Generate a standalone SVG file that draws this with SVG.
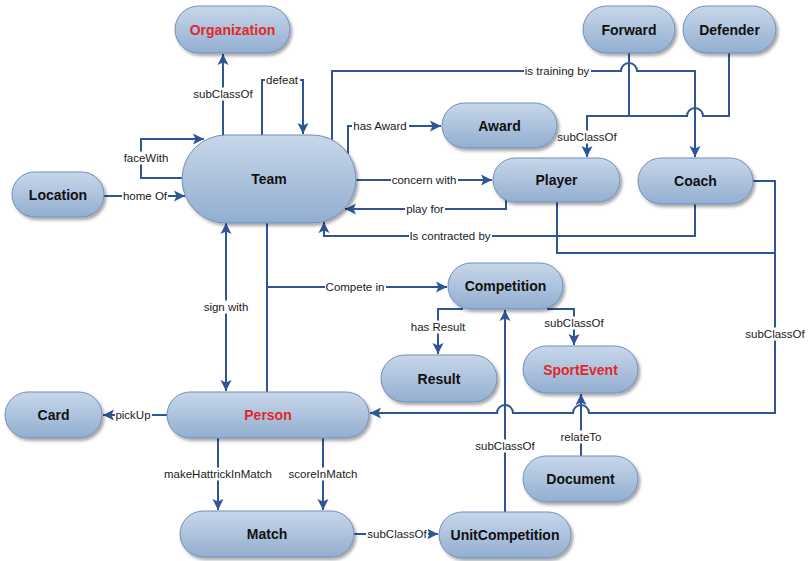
<svg xmlns="http://www.w3.org/2000/svg" width="808" height="561" viewBox="0 0 808 561">
<defs>
<linearGradient id="g" x1="0" y1="0" x2="0" y2="1">
<stop offset="0" stop-color="#c8d7ea"/>
<stop offset="1" stop-color="#92aed0"/>
</linearGradient>
<filter id="sh" x="-20%" y="-20%" width="140%" height="150%">
<feDropShadow dx="2" dy="2.5" stdDeviation="1.5" flood-color="#000" flood-opacity="0.35"/>
</filter>
<marker id="ar" markerUnits="userSpaceOnUse" markerWidth="12" markerHeight="12" refX="11" refY="6" orient="auto-start-reverse" viewBox="0 0 12 12">
<path d="M0,0.5 L11,6 L0,11.5 L2.5,6 z" fill="#2f5597"/>
</marker>
</defs>
<style>
.n rect{fill:url(#g);stroke:#6f8fba;stroke-width:1;filter:url(#sh)}
.n text{font-family:"Liberation Sans",Arial,sans-serif;font-weight:bold;font-size:14px;text-anchor:middle;dominant-baseline:central;fill:#111}
.n text.r{fill:#e0282a}
.c path{fill:none;stroke:#2f5597;stroke-width:2}
.c path.a{marker-end:url(#ar)}
.c path.b{marker-start:url(#ar);marker-end:url(#ar)}
.c rect{fill:#fff}
.c text{font-family:"Liberation Sans",Arial,sans-serif;font-size:11.5px;text-anchor:middle;dominant-baseline:central;fill:#1a1a1a}
</style>
<rect width="808" height="561" fill="#fff"/>
<g id="connectors" class="c">
<path class="a" d="M223,136 V54"/>
<path class="a" d="M262,135 V80 H303 V134"/>
<path class="a" d="M182,178 H141 V139 H204"/>
<path class="a" d="M104,196 H185"/>
<path class="a" d="M332,140 V71 H621 a8,8 0 0 1 16,0 H695 V157"/>
<path d="M629,53 V116"/>
<path class="a" d="M729,53 V116 H703 a8,8 0 0 0 -16,0 H587 V157"/>
<path class="a" d="M348,154 V126 H441"/>
<path class="a" d="M356,180 H492"/>
<path class="a" d="M506,199 V209 H345"/>
<path class="a" d="M695,204 V236 H324 V222"/>
<path class="a" d="M753,181 H775 V413 H589 a8,8 0 0 0 -16,0 H513 a8,8 0 0 0 -16,0 H370"/>
<path d="M557,202 V253 H775"/>
<path class="b" d="M226,223 V391"/>
<path d="M267,392 V223"/>
<path class="a" d="M267,287 H447"/>
<path class="a" d="M167,415 H103"/>
<path class="a" d="M218,438 V510"/>
<path class="a" d="M323,438 V510"/>
<path class="a" d="M354,534 H438"/>
<path class="a" d="M505,512 V310"/>
<path class="a" d="M463,309 H438 V354"/>
<path class="a" d="M547,309 H574 V345"/>
<path class="a" d="M581,456 V394"/>
<rect x="192" y="87.5" width="62" height="13"/><text x="223" y="94">subClassOf</text>
<rect x="265" y="73.5" width="35" height="13"/><text x="282" y="80">defeat</text>
<rect x="123" y="151.5" width="47" height="13"/><text x="146" y="158">faceWith</text>
<rect x="122" y="189.5" width="46" height="13"/><text x="145" y="196">home Of</text>
<rect x="524" y="64.5" width="67" height="13"/><text x="557" y="71">is training by</text>
<rect x="556" y="130.5" width="62" height="13"/><text x="587" y="137">subClassOf</text>
<rect x="352" y="119.5" width="57" height="13"/><text x="380" y="126">has Award</text>
<rect x="391" y="173.5" width="67" height="13"/><text x="424" y="180">concern with</text>
<rect x="405" y="202.5" width="40" height="13"/><text x="425" y="209">play for</text>
<rect x="409" y="229.5" width="83" height="13"/><text x="450" y="236">Is contracted by</text>
<rect x="744" y="327.5" width="62" height="13"/><text x="775" y="334">subClassOf</text>
<rect x="203" y="300.5" width="47" height="13"/><text x="226" y="307">sign with</text>
<rect x="325" y="280.5" width="61" height="13"/><text x="355" y="287">Compete in</text>
<rect x="115" y="408.5" width="37" height="13"/><text x="133" y="415">pickUp</text>
<rect x="163" y="467.5" width="110" height="13"/><text x="218" y="474">makeHattrickInMatch</text>
<rect x="288" y="467.5" width="71" height="13"/><text x="323" y="474">scoreInMatch</text>
<rect x="366" y="527.5" width="62" height="13"/><text x="397" y="534">subClassOf</text>
<rect x="474" y="439.5" width="62" height="13"/><text x="505" y="446">subClassOf</text>
<rect x="411" y="320.5" width="56" height="13"/><text x="438" y="327">has Result</text>
<rect x="543" y="316.5" width="62" height="13"/><text x="574" y="323">subClassOf</text>
<rect x="560" y="430.5" width="44" height="13"/><text x="581" y="437">relateTo</text>
</g>
<g id="Organization" class="n"><rect x="175" y="6" width="115" height="47" rx="23.5"/><text class="r" x="232.5" y="29.5">Organization</text></g>
<g id="Team" class="n"><rect x="182" y="135" width="174" height="88" rx="44"/><text x="269" y="179">Team</text></g>
<g id="Location" class="n"><rect x="12" y="172" width="92" height="45" rx="22.5"/><text x="58" y="194.5">Location</text></g>
<g id="Forward" class="n"><rect x="583" y="6" width="92" height="47" rx="23.5"/><text x="629" y="29.5">Forward</text></g>
<g id="Defender" class="n"><rect x="683" y="6" width="93" height="47" rx="23.5"/><text x="729.5" y="29.5">Defender</text></g>
<g id="Award" class="n"><rect x="442" y="103" width="115" height="45" rx="22.5"/><text x="499.5" y="125.5">Award</text></g>
<g id="Player" class="n"><rect x="493" y="158" width="127" height="44" rx="22"/><text x="556.5" y="180">Player</text></g>
<g id="Coach" class="n"><rect x="638" y="158" width="115" height="46" rx="23"/><text x="695.5" y="181">Coach</text></g>
<g id="Competition" class="n"><rect x="448" y="263" width="115" height="46" rx="23"/><text x="505.5" y="286">Competition</text></g>
<g id="Result" class="n"><rect x="381" y="355" width="116" height="47" rx="23.5"/><text x="439" y="378.5">Result</text></g>
<g id="SportEvent" class="n"><rect x="523" y="346" width="115" height="47" rx="23.5"/><text class="r" x="580.5" y="369.5">SportEvent</text></g>
<g id="Card" class="n"><rect x="5" y="392" width="97" height="46" rx="23"/><text x="53.5" y="415">Card</text></g>
<g id="Person" class="n"><rect x="167" y="392" width="202" height="46" rx="23"/><text class="r" x="268" y="415">Person</text></g>
<g id="Document" class="n"><rect x="523" y="456" width="115" height="46" rx="23"/><text x="580.5" y="479">Document</text></g>
<g id="Match" class="n"><rect x="180" y="511" width="174" height="46" rx="23"/><text x="267" y="534">Match</text></g>
<g id="UnitCompetition" class="n"><rect x="439" y="512" width="132" height="46" rx="23"/><text x="505" y="535">UnitCompetition</text></g>
</svg>
